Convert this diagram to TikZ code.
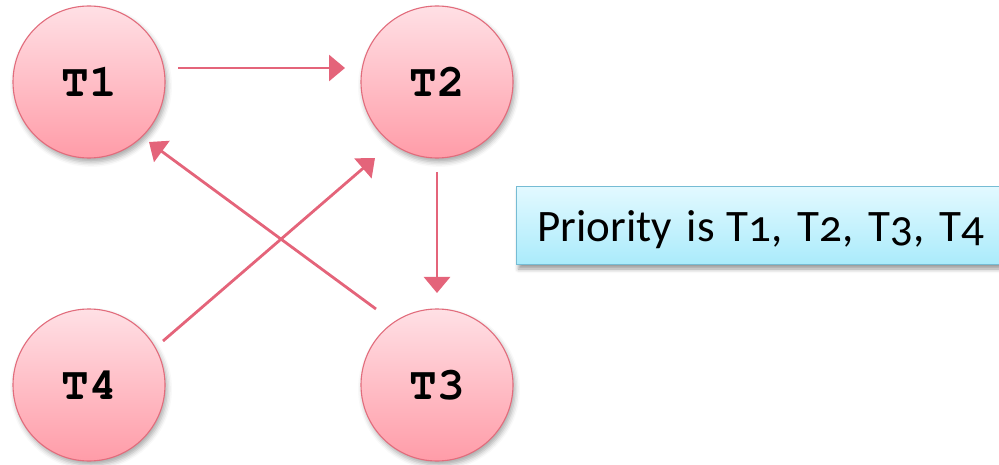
\documentclass[tikz,border=0pt]{standalone}
\usepackage{fontspec}
\setmainfont{Carlito}[Numbers=OldStyle]
\newfontfamily\codefont{TeX Gyre Cursor}
\usetikzlibrary{arrows.meta,shadows.blur,calc}

\definecolor{edgepink}{RGB}{228,100,122}
\definecolor{toppink}{RGB}{255,224,229}
\definecolor{botpink}{RGB}{255,156,168}
\definecolor{circleline}{RGB}{226,108,124}
\definecolor{boxtop}{RGB}{226,249,255}
\definecolor{boxbot}{RGB}{170,235,251}
\definecolor{boxline}{RGB}{118,188,212}

\tikzset{
  task/.style={circle, minimum size=152pt, inner sep=0pt,
    draw=circleline, line width=1.1pt,
    top color=toppink, bottom color=botpink,
    blur shadow={shadow xshift=2pt, shadow yshift=-4pt,
      shadow blur radius=5pt, shadow opacity=35},
    font=\codefont\bfseries\fontsize{46}{46}\selectfont},
  conn/.style={draw=edgepink, line width=2.8pt,
    -{Triangle[length=16pt,width=26pt]}},
  notebox/.style={draw=boxline, line width=1pt,
    top color=boxtop, bottom color=boxbot,
    blur shadow={shadow xshift=2pt, shadow yshift=-4pt,
      shadow blur radius=4pt, shadow opacity=40},
    minimum height=78pt, inner xsep=21pt, inner ysep=0pt,
    text height=40pt, text depth=8pt,
    text width=470pt, align=left, anchor=west,
    font=\fontsize{45}{45}\selectfont}
}

\begin{document}
\begin{tikzpicture}[x=1pt,y=-1pt]
  \useasboundingbox (0,0) rectangle (999,465);

  % task circles
  \node[task] (T1) at (89,82)  {T1};
  \node[task] (T2) at (437,82) {T2};
  \node[task] (T3) at (437,385) {T3};
  \node[task] (T4) at (89,385) {T4};

  % priority note
  \node[notebox] (prio) at (516,226) {Priority is\hspace{-3pt} T1, T2, T3, T4};

  % precedence arrows
  \draw[conn] ($(T1.center)+(89,-14)$) -- ($(T2.center)+(-92,-14)$);
  \draw[conn] ($(T2.center)+(0,90)$) -- ($(T3.center)+(0,-92)$);
  \draw[conn] ($(T3.center)+(-61,-76)$) -- ($(T1.center)+(60,60)$);
  \draw[conn] ($(T4.center)+(74,-44)$) -- ($(T2.center)+(-62,76)$);
\end{tikzpicture}
\end{document}
